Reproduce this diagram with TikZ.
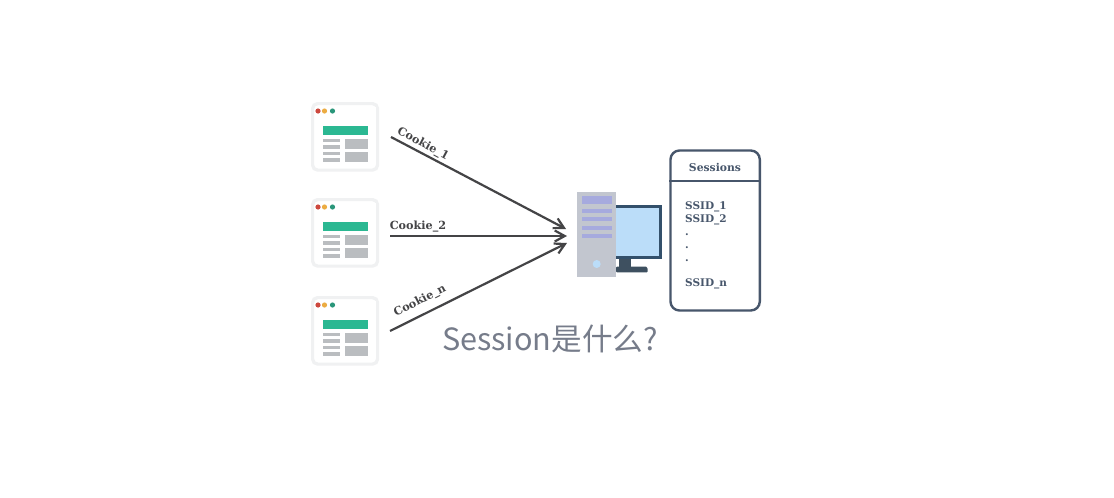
\documentclass[tikz,border=0pt]{standalone}
\usepackage{fontspec}
\setmainfont{DejaVu Serif}
\newfontfamily\cjk{Noto Sans CJK SC}
\usetikzlibrary{positioning,arrows.meta}
\definecolor{LineGrey}{RGB}{68,68,70}
\definecolor{BoxSlate}{RGB}{71,86,107}
\definecolor{TextGrey}{RGB}{118,124,138}
\definecolor{WinFrame}{RGB}{240,241,242}
\definecolor{WinGreen}{RGB}{43,184,146}
\definecolor{WinGrey}{RGB}{186,189,192}
\definecolor{DotRed}{RGB}{205,72,62}
\definecolor{DotAmber}{RGB}{236,172,66}
\definecolor{DotGreen}{RGB}{42,150,122}
\definecolor{TowerGrey}{RGB}{194,198,207}
\definecolor{TowerBar}{RGB}{166,170,222}
\definecolor{ScreenBlue}{RGB}{187,221,249}
\definecolor{MonitorDark}{RGB}{51,80,107}
\definecolor{StandDark}{RGB}{62,80,96}

% one browser window, #1 = node name, #2 = top edge
\newcommand{\browserwin}[2]{
    \node (#1) [win, anchor=north west] at (311,#2) {};
    \begin{scope}[shift={(311,#2)}]
        \fill [white] (29,4.5) rectangle (65,13);
        \fill [DotRed] (7,9) circle (2.6);
        \fill [DotAmber] (13.5,9) circle (2.6);
        \fill [DotGreen] (21.5,9) circle (2.6);
        \fill [WinGreen] (11.5,24) rectangle (56.5,33);
        \foreach \rowy in {36.7,43,49.7,56.3} {
            \fill [WinGrey] (12,\rowy) rectangle (29,\rowy+3.7);
        }
        \fill [WinGrey] (33.7,36.7) rectangle (56.7,46.7);
        \fill [WinGrey] (33.7,49.7) rectangle (56.7,59.7);
    \end{scope}
}

\begin{document}
\begin{tikzpicture}[
        x=1pt, y=-1pt,
        win/.style={draw=WinFrame, line width=3.2pt, fill=white, rectangle, rounded corners=5pt, minimum width=65pt, minimum height=66.5pt, inner sep=0pt, outer sep=0pt, yshift=-1.6pt, xshift=1.6pt},
        arrow/.style={-{Straight Barb[length=10pt, width=11pt, line width=2.2pt]}, line width=2.2pt, LineGrey},
        cookie/.style={font=\fontsize{11.2}{13}\bfseries, text=LineGrey, inner sep=0pt},
        ssid/.style={font=\fontsize{10.5}{12}\bfseries, text=BoxSlate, inner sep=0pt, anchor=west}
    ]
    \useasboundingbox [fill=white] (0,0) rectangle (1114,498);

    \browserwin{win1}{102}
    \browserwin{win2}{198}
    \browserwin{win3}{296}

    % tower and monitor
    \fill [StandDark] (619,258) rectangle (630.7,267);
    \fill [StandDark] (616,266.7) -- (646,266.7) [rounded corners=1pt] -- (647.7,268) -- (647.7,272.3) -- (616,272.3) -- cycle;
    \node (monitor) [draw=MonitorDark, line width=3.4pt, fill=ScreenBlue, minimum width=48pt, minimum height=51.2pt, inner sep=0pt, anchor=north west] at (610.9,204.7) {};
    \node (server) [fill=TowerGrey, minimum width=38.7pt, minimum height=85pt, inner sep=0pt, outer sep=0pt, anchor=north west] at (577.3,191.7) {};
    \fill [TowerBar] (581.7,196) rectangle (611.7,204);
    \foreach \bary in {209,217.4,226,234.4} {
        \fill [TowerBar] (581.7,\bary) rectangle (611.7,\bary+4);
    }
    \fill [ScreenBlue] (596.7,264) circle (4);

    % sessions table
    \node (sessions) [draw=BoxSlate, line width=2.4pt, rounded corners=9pt, minimum width=89.3pt, minimum height=160pt, inner sep=0pt, anchor=north west] at (669.3,149.3) {};
    \draw [BoxSlate, line width=2.2pt] (sessions.west |- 0,181) -- (sessions.east |- 0,181);
    \node (title) [font=\fontsize{10.8}{12}\bfseries, text=BoxSlate, inner sep=0pt] at (715,167) {Sessions};
    \node (ssid1) [ssid] at (685,206.5) {SSID\_1};
    \node (ssid2) [ssid] at (685,219.5) {SSID\_2};
    \node (dot1) [ssid] at (685,235) {.};
    \node (dot2) [ssid] at (685,248) {.};
    \node (dot3) [ssid] at (685,261) {.};
    \node (ssidn) [ssid] at (685,284) {SSID\_n};

    % arrows
    \coordinate (from1) at (391,137);
    \coordinate (from2) at (390,236);
    \coordinate (from3) at (390,331);
    \coordinate (to1) at (566,229);
    \coordinate (to2) at (567,236);
    \coordinate (to3) at (567,243);
    \draw [arrow] (from1) -- (to1);
    \draw [arrow] (from2) -- (to2);
    \draw [arrow] (from3) -- (to3);

    \node (cookie1) [cookie, rotate=-28] at (423,144) {Cookie\_1};
    \node (cookie2) [cookie] at (418,226.5) {Cookie\_2};
    \node (cookien) [cookie, rotate=27] at (420,301) {Cookie\_n};

    \node (question) [font=\fontsize{30.6}{34}\cjk, text=TextGrey, inner sep=0pt] at (550,339) {Session是什么?};
\end{tikzpicture}
\end{document}
